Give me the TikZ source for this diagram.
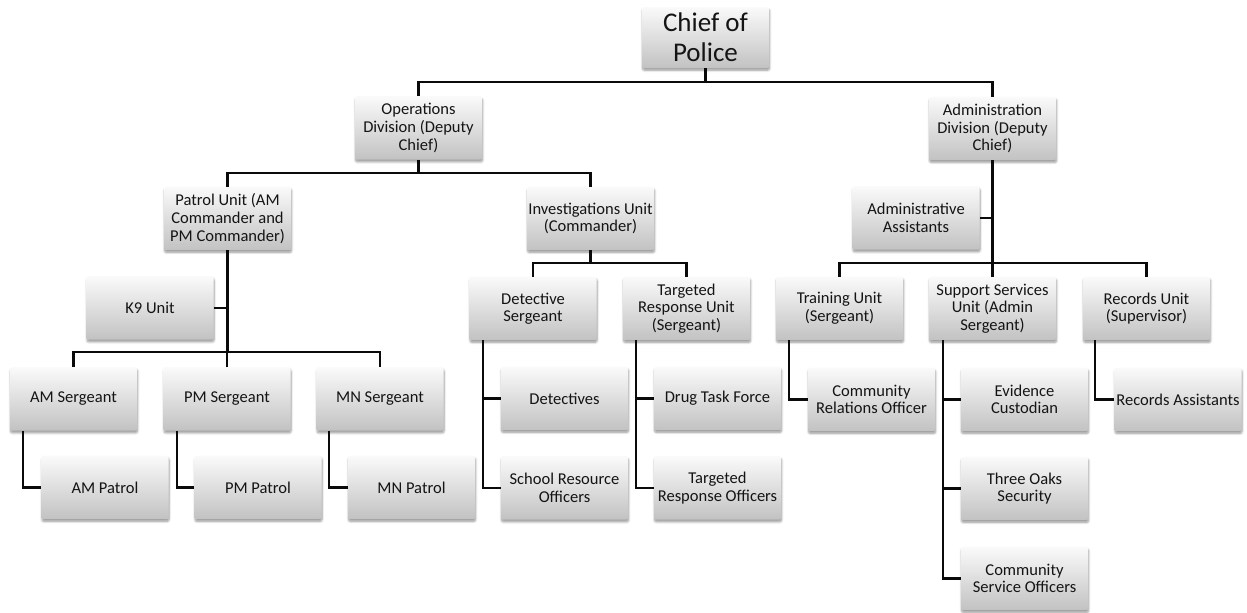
\documentclass[tikz,border=0pt]{standalone}
\usepackage{fontspec}
\setmainfont{Carlito}
\usetikzlibrary{shadows.blur}
\definecolor{boxtop}{RGB}{250,250,250}
\definecolor{boxbot}{RGB}{194,194,194}
\definecolor{inkline}{RGB}{10,10,10}
\tikzset{
  orgbox/.style={rectangle, rounded corners=1.5pt, minimum width=95.25pt,
    minimum height=47.5pt, inner sep=1pt, align=center,
    top color=boxtop, bottom color=boxbot, draw=none,
    font=\fontsize{12.4pt}{13.2pt}\selectfont, text=black!92,
    blur shadow={shadow xshift=0.4pt, shadow yshift=-1.7pt,
      shadow opacity=40, shadow blur steps=6, shadow blur radius=1.6pt}},
  chiefbox/.style={orgbox, minimum height=45.75pt,
    font=\fontsize{20.25pt}{22.5pt}\selectfont},
  link/.style={draw=inkline, line width=1.6pt}
}
\begin{document}
\begin{tikzpicture}[x=0.75pt, y=-0.75pt]
\useasboundingbox (0,0) rectangle (1247,612);
% level 0-1
\node[chiefbox] (chief) at (705.5,37.5) {Chief of\\Police};
\node[orgbox] (ops) at (418.5,128) {Operations\\Division (Deputy\\Chief)};
\node[orgbox] (adm) at (992.5,128.5) {Administration\\Division (Deputy\\Chief)};
% level 2
\node[orgbox] (patrol) at (227.5,218.5) {Patrol Unit (AM\\Commander and\\PM Commander)};
\node[orgbox] (inv) at (590.5,218.5) {Investigations Unit\\(Commander)};
\node[orgbox] (aa) at (916,218) {Administrative\\Assistants};
% level 3
\node[orgbox] (k9) at (150,308) {K9 Unit};
\node[orgbox] (det) at (533,308.5) {Detective\\Sergeant};
\node[orgbox] (tru) at (686.5,308.5) {Targeted\\Response Unit\\(Sergeant)};
\node[orgbox] (trn) at (839.5,308.5) {Training Unit\\(Sergeant)};
\node[orgbox] (sup) at (992.5,308.5) {Support Services\\Unit (Admin\\Sergeant)};
\node[orgbox] (rec) at (1146.5,308.5) {Records Unit\\(Supervisor)};
% level 4
\node[orgbox] (amsg) at (73.5,399) {AM Sergeant};
\node[orgbox] (pmsg) at (227,399) {PM Sergeant};
\node[orgbox] (mnsg) at (380,399) {MN Sergeant};
\node[orgbox] (dets) at (564.5,398.5) {Detectives};
\node[orgbox] (drug) at (717.5,398.5) {Drug Task Force};
\node[orgbox] (cro) at (871.5,399.5) {Community\\Relations Officer};
\node[orgbox] (evi) at (1024.5,399.5) {Evidence\\Custodian};
\node[orgbox] (ra) at (1178,399.5) {Records Assistants};
% level 5
\node[orgbox] (amp) at (105,487.5) {AM Patrol};
\node[orgbox] (pmp) at (258,487.5) {PM Patrol};
\node[orgbox] (mnp) at (411.5,487.5) {MN Patrol};
\node[orgbox] (sro) at (564.5,488) {School Resource\\Officers};
\node[orgbox] (tro) at (717.5,488) {Targeted\\Response Officers};
\node[orgbox] (tos) at (1024.5,488.5) {Three Oaks\\Security};
% level 6
\node[orgbox] (cso) at (1024.5,578.5) {Community\\Service Officers};

% bus heights
\coordinate (busA) at (0,82);
\coordinate (busB) at (0,173);
\coordinate (busC) at (0,352);
\coordinate (busD) at (0,263);

% chief to divisions
\draw[link] (chief.south) -- (chief.south |- busA);
\draw[link] (ops.north) -- (ops.north |- busA) -| (adm.north);
% operations to units
\draw[link] (ops.south) -- (ops.south |- busB);
\draw[link] (patrol.north) -- (patrol.north |- busB) -| (inv.north);
% patrol unit
\draw[link] (patrol.south) -- (patrol.south |- busC);
\draw[link] (k9.east) -- (k9.east -| patrol.south);
\draw[link] (amsg.north) -- (amsg.north |- busC) -| (mnsg.north);
\draw[link] (pmsg.north) -- (pmsg.north |- busC);
\draw[link] ([xshift=9.75pt]amsg.south west) |- (amp.west);
\draw[link] ([xshift=10.5pt]pmsg.south west) |- (pmp.west);
\draw[link] ([xshift=9.75pt]mnsg.south west) |- (mnp.west);
% investigations unit
\draw[link] (inv.south) -- (inv.south |- busD);
\draw[link] (det.north) -- (det.north |- busD) -| (tru.north);
\draw[link] ([xshift=10.5pt]det.south west) |- (dets.west);
\draw[link] ([xshift=10.5pt]det.south west) |- (sro.west);
\draw[link] ([xshift=9.75pt]tru.south west) |- (drug.west);
\draw[link] ([xshift=9.75pt]tru.south west) |- (tro.west);
% administration division
\draw[link] (adm.south) -- (adm.south |- busD);
\draw[link] (aa.east) -- (aa.east -| adm.south);
\draw[link] (trn.north) -- (trn.north |- busD) -| (rec.north);
\draw[link] (sup.north) -- (sup.north |- busD);
\draw[link] ([xshift=9.75pt]trn.south west) |- (cro.west);
\draw[link] ([xshift=10.5pt]sup.south west) |- (evi.west);
\draw[link] ([xshift=10.5pt]sup.south west) |- (tos.west);
\draw[link] ([xshift=10.5pt]sup.south west) |- (cso.west);
\draw[link] ([xshift=9pt]rec.south west) |- (ra.west);
\end{tikzpicture}
\end{document}
